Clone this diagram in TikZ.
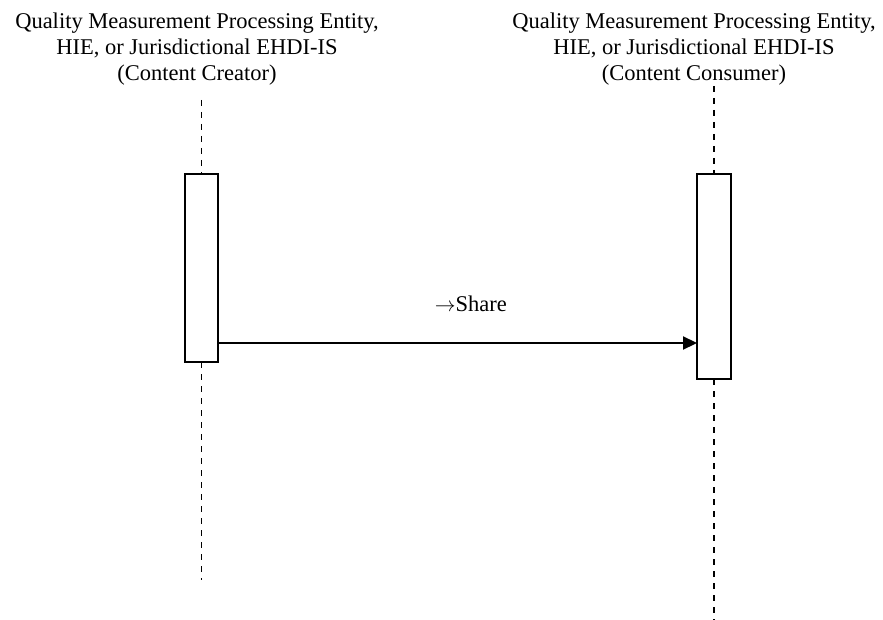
\documentclass[tikz,border=0pt]{standalone}
\usepackage{fontspec}
\setmainfont{Liberation Serif}
\usetikzlibrary{arrows.meta}
\begin{document}
\begin{tikzpicture}[x=1pt,y=-1pt,
  title/.style={align=center,inner sep=0pt,anchor=north,font=\fontsize{22.5}{26}\selectfont},
  actbox/.style={draw=black,fill=white,line width=2pt,inner sep=0pt,outer sep=0pt},
  lifeline/.style={line width=1.9pt,dash pattern=on 6pt off 6pt},
  msg/.style={line width=2.2pt,-{Triangle[length=14pt,width=13pt]}},
  lbl/.style={font=\fontsize{22.5}{26}\selectfont,inner sep=0pt,anchor=base}]
\useasboundingbox (0,0) rectangle (883,620);
\node[title] (T1) at (197,13) {Quality Measurement Processing Entity,\\HIE, or Jurisdictional EHDI-IS\\(Content Creator)};
\node[title] (T2) at (694,13) {Quality Measurement Processing Entity,\\HIE, or Jurisdictional EHDI-IS\\(Content Consumer)};
\node[actbox,minimum width=33pt,minimum height=188pt] (A) at (201.5,268) {};
\node[actbox,minimum width=34pt,minimum height=205pt] (B) at (714,276.5) {};
\coordinate (Atop) at (201.5,100);
\coordinate (Abot) at (201.5,580);
\coordinate (Btop) at (714,86);
\coordinate (Bbot) at (714,620);
\draw[lifeline] (Atop) -- (A.north);
\draw[lifeline] (A.south) -- (Abot);
\draw[lifeline] (Btop) -- (B.north);
\draw[lifeline] (B.south) -- (Bbot);
\coordinate (m) at (0,343);
\draw[msg] (A.east |- m) -- (B.west |- m) node[lbl,pos=0.528,above=30pt] (L) {$\rightarrow$Share};
\end{tikzpicture}
\end{document}
